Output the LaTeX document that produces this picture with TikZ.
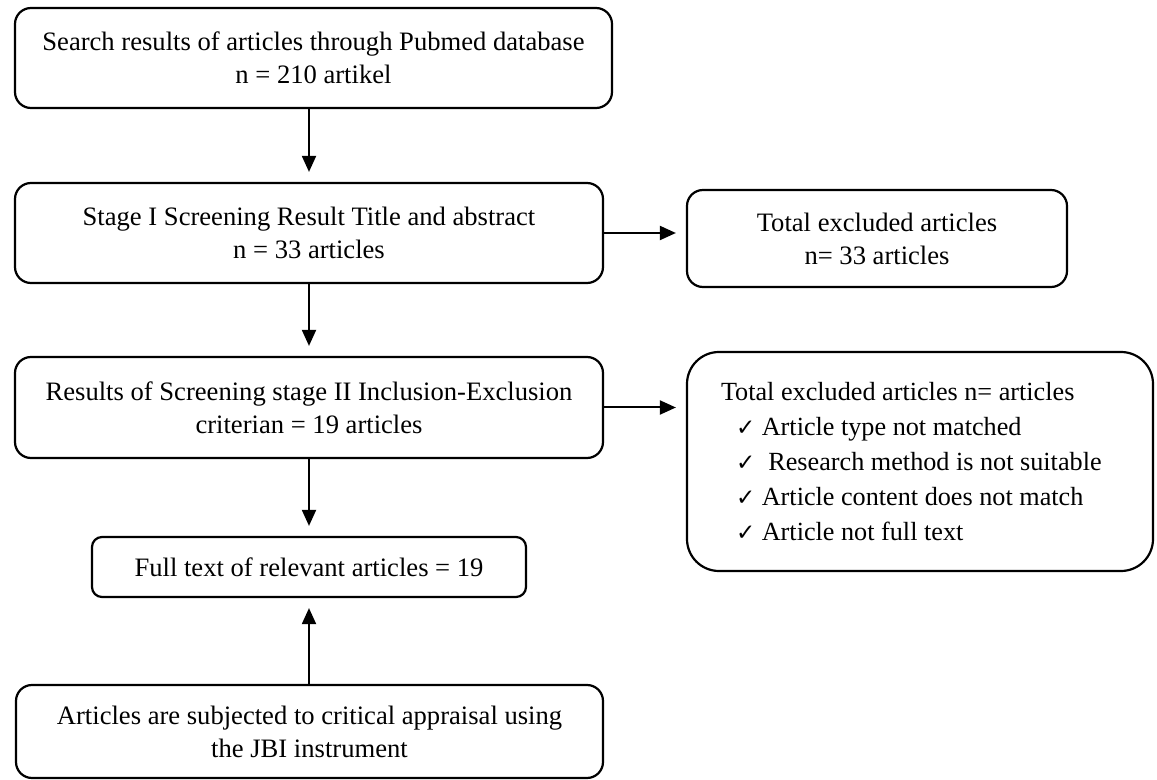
\documentclass[tikz,border=0pt]{standalone}
\usepackage{fontspec}
\setmainfont{Liberation Serif}
\newfontfamily\symfont{DejaVu Sans}
\usetikzlibrary{arrows.meta,positioning,calc}
\newcommand{\chkmark}{\hspace*{7.5pt}{\symfont\fontsize{11.5}{11.5}\selectfont ✓}\ }

\begin{document}
\begin{tikzpicture}[x=0.5pt,y=-0.5pt,
    box/.style={draw,line width=1.1pt,rounded corners=8pt,align=center,inner sep=0pt,
      font=\fontsize{13.3}{16.5}\selectfont},
    arr/.style={-{Triangle[width=7pt,length=8pt]},line width=1pt,shorten >=5pt}]
  \useasboundingbox (0,0) rectangle (1157,780);
  % main column
  \node[box,minimum width=298.5pt,minimum height=50pt] (search) at (313.5,58)
    {Search results of articles through Pubmed database\\ n = 210 artikel};
  \node[box,minimum width=294pt,minimum height=50pt] (stage1) at (309,233)
    {Stage I Screening Result Title and abstract\\ n = 33 articles};
  \node[box,minimum width=294pt,minimum height=50.5pt] (stage2) at (309,407.5)
    {Results of Screening stage II Inclusion-Exclusion\\ criterian = 19 articles};
  \node[box,rounded corners=5pt,minimum width=217pt,minimum height=30pt] (full) at (309,567)
    {Full text of relevant articles = 19};
  \node[box,minimum width=293.5pt,minimum height=46.5pt] (jbi) at (309.5,731.5)
    {Articles are subjected to critical appraisal using\\ the JBI instrument};
  % excluded
  \node[box,minimum width=190pt,minimum height=48.5pt] (excl1) at (877,238.5)
    {Total excluded articles\\ n= 33 articles};
  \node[box,rounded corners=16pt,minimum width=233pt,minimum height=109.5pt,
    text width=199pt,align=flush left,font=\fontsize{13.1}{17.5}\selectfont] (excl2) at (920,461.5)
    {Total excluded articles n= articles\\
     \chkmark Article type not matched\\
     \chkmark\ Research method is not suitable\\
     \chkmark Article content does not match\\
     \chkmark Article not full text};
  % arrows
  \draw[arr] (stage1.north |- search.south) -- (stage1.north);
  \draw[arr] (stage1.south) -- (stage2.north);
  \draw[arr] (stage2.south) -- (full.north);
  \draw[arr] (jbi.north -| full.south) -- (full.south);
  \draw[arr] (stage1.east) -- (stage1.east -| excl1.west);
  \draw[arr] (stage2.east) -- (stage2.east -| excl2.west);
\end{tikzpicture}
\end{document}
